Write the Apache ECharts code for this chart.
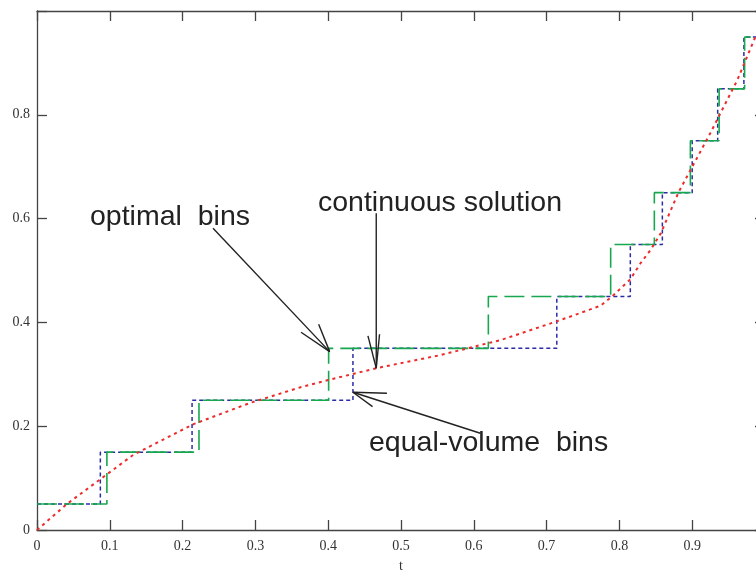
<!DOCTYPE html>
<html>
<head>
<meta charset="utf-8">
<script src="https://cdn.jsdelivr.net/npm/echarts@6/dist/echarts.min.js"></script>
<style>html,body{margin:0;padding:0;background:#fff}#c{width:756px;height:574px}</style>
</head>
<body>
<div id="c"></div>
<script>
// bin edges (t) and levels
const levels      = [0.05, 0.15, 0.25, 0.35, 0.45, 0.55, 0.65, 0.75, 0.85, 0.95, 0.95];
const optimalEdges = [0, 0.096, 0.2225, 0.4006, 0.620, 0.788, 0.848, 0.8975, 0.937, 0.972, 1.0];
const equalEdges   = [0, 0.087, 0.213, 0.434, 0.714, 0.815, 0.859, 0.900, 0.935, 0.971, 1.0];
// continuous solution
const curveT = [0, 0.041, 0.132, 0.215, 0.293, 0.362, 0.40, 0.467, 0.554, 0.637, 0.714, 0.774, 0.79, 0.815, 0.829, 0.843, 0.857, 0.881, 0.925, 0.962, 0.987, 1.0];
const curveY = [0, 0.05, 0.1446, 0.204, 0.245, 0.275, 0.289, 0.312, 0.337, 0.366, 0.402, 0.432, 0.45, 0.483, 0.514, 0.54, 0.572, 0.65, 0.765, 0.867, 0.951, 0.99];
const xTicks = [0, 0.1, 0.2, 0.3, 0.4, 0.5, 0.6, 0.7, 0.8, 0.9];
const yTicks = [0, 0.2, 0.4, 0.6, 0.8];
const annoTexts = ['optimal  bins', 'continuous solution', 'equal-volume  bins'];

const optData = optimalEdges.map((t, i) => [t, levels[i]]);
const eqData = equalEdges.map((t, i) => [t, levels[i]]);
const curveData = curveT.map((t, i) => [t, curveY[i]]);

const chart = echarts.init(document.getElementById('c'), null, {renderer: 'canvas'});
const axisLine = {show: true, onZero: false, lineStyle: {color: '#444', width: 1.3}};
const tick = {show: true, inside: true, length: 10, lineStyle: {color: '#444', width: 1.3}};
const lblFont = {fontFamily: 'Liberation Serif', fontSize: 14, color: '#333'};
chart.setOption({
  animation: false,
  grid: {left: 37, right: -9, top: 11, bottom: 44, containLabel: false, outerBoundsMode: 'none'},
  xAxis: [
    {type: 'value', min: 0, max: 1, interval: 0.1, position: 'bottom',
     axisLine, axisTick: tick, splitLine: {show: false},
     axisLabel: Object.assign({margin: 9, formatter: v => xTicks.some(x => Math.abs(x - v) < 1e-9) ? String(+v.toFixed(1)) : ''}, lblFont),
     name: 't', nameLocation: 'middle', nameGap: 29,
     nameTextStyle: {fontFamily: 'Liberation Serif', fontSize: 14, color: '#333'}},
    {type: 'value', min: 0, max: 1, interval: 0.1, position: 'top',
     axisLine, axisTick: tick, splitLine: {show: false}, axisLabel: {show: false}}
  ],
  yAxis: [
    {type: 'value', min: 0, max: 1, interval: 0.2, position: 'left',
     axisLine, axisTick: tick, splitLine: {show: false},
     axisLabel: Object.assign({margin: 7, padding: [6, 0, 0, 0], formatter: v => yTicks.some(y => Math.abs(y - v) < 1e-9) ? String(+v.toFixed(1)) : ''}, lblFont)},
    {type: 'value', min: 0, max: 1, interval: 0.2, position: 'right',
     axisLine, axisTick: tick, splitLine: {show: false}, axisLabel: {show: false}}
  ],
  series: [
    {type: 'line', name: 'equal-volume bins', step: 'end', data: eqData, showSymbol: false,
     lineStyle: {color: '#2b2ba8', width: 1.5, type: [4, 3]}},
    {type: 'line', name: 'optimal bins', step: 'end', data: optData, showSymbol: false,
     lineStyle: {color: '#17a84f', width: 1.6, type: [20, 7]}},
    {type: 'line', name: 'continuous solution', data: curveData, showSymbol: false,
     lineStyle: {color: '#ee2a2a', width: 2, type: [3, 4]}}
  ]
});

// annotation anchors in data coordinates
const arrows = [
  {tip: [0.402, 0.3437], tail: [0.2418, 0.5816], barbs: [[-28.6, -19.4], [-11, -27.4]]},
  {tip: [0.466, 0.3117], tail: [0.466, 0.6105], barbs: [[-8.3, -32.3], [3.3, -34]]},
  {tip: [0.434, 0.2654], tail: [0.609, 0.1864], barbs: [[34, 1], [19.6, 14.4]]}
];
const textPos = [[90, 217.5], [318, 203.5], [369, 443.5]];
const g = [];
arrows.forEach(a => {
  const p = chart.convertToPixel({gridIndex: 0}, a.tip);
  const q = chart.convertToPixel({gridIndex: 0}, a.tail);
  const ls = {stroke: '#222', lineWidth: 1.4};
  g.push({type: 'line', shape: {x1: q[0], y1: q[1], x2: p[0], y2: p[1]}, style: ls, z: 100});
  a.barbs.forEach(b => g.push({type: 'line', shape: {x1: p[0], y1: p[1], x2: p[0] + b[0], y2: p[1] + b[1]}, style: ls, z: 100}));
});
annoTexts.forEach((t, i) => {
  g.push({type: 'text', x: textPos[i][0], y: textPos[i][1], z: 100,
    style: {text: t, font: '28.5px "Liberation Sans", Arial, sans-serif', fill: '#222', textAlign: 'left', textVerticalAlign: 'middle'}});
});
chart.setOption({graphic: g});
</script>
</body>
</html>
